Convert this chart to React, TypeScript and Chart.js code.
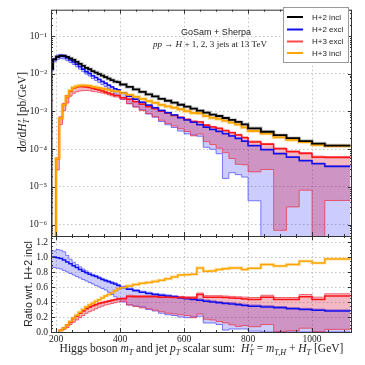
import React, { useEffect, useRef } from "react";
import { Chart, registerables } from "chart.js";
Chart.register(...registerables);

// ---------------- data ----------------
const binEdges = [
  185, 190, 200, 210, 220, 230, 240, 250, 260, 270, 280, 290, 300, 310, 320, 330, 340, 350, 360, 370, 380, 390, 400,
  420, 440, 460, 480, 500, 520, 540, 560, 580, 600, 620, 640, 660, 680, 700, 720, 740, 760, 780, 800,
  840, 880, 920, 960, 1000, 1040, 1080, 1120,
];

// H+2 incl, dσ/dH'_T [pb/GeV]
const h2InclValues = [
  3.7e-3, 1.34e-2, 2.4e-2, 2.83e-2, 3.01e-2, 3.0e-2, 2.79e-2, 2.55e-2, 2.33e-2, 2.07e-2, 1.84e-2, 1.63e-2, 1.44e-2, 1.32e-2,
  1.17e-2, 1.07e-2, 9.77e-3, 8.92e-3, 8.15e-3, 7.45e-3, 6.81e-3, 6.22e-3,
  6.04e-3, 5.19e-3, 4.47e-3, 3.85e-3, 3.31e-3, 2.85e-3, 2.52e-3, 2.17e-3, 1.93e-3, 1.71e-3, 1.51e-3, 1.34e-3, 1.19e-3,
  1.05e-3, 9.35e-4, 8.3e-4, 7.59e-4, 6.73e-4, 5.96e-4, 5.29e-4,
  4.55e-4, 3.58e-4, 2.9e-4, 2.35e-4, 1.96e-4, 1.64e-4, 1.41e-4, 1.25e-4,
];

// ratios wrt H+2 incl
const h2ExclRatio = [
  1.0, 1.0, 1.0, 0.99, 0.98, 0.96, 0.935, 0.91, 0.885, 0.86, 0.835, 0.81, 0.79, 0.77, 0.755, 0.74, 0.72, 0.7, 0.685, 0.67, 0.655, 0.64,
  0.62, 0.595, 0.57, 0.55, 0.53, 0.515, 0.5, 0.49, 0.48, 0.47, 0.455, 0.445, 0.435, 0.425, 0.41, 0.4, 0.39, 0.38, 0.375, 0.365,
  0.355, 0.345, 0.335, 0.325, 0.31, 0.3, 0.29, 0.28,
];
const h2ExclHiRatio = [
  1.06, 1.08, 1.08, 1.1, 1.09, 1.07, 1.02, 0.97, 0.93, 0.9, 0.87, 0.84, 0.815, 0.79, 0.77, 0.755, 0.735, 0.715, 0.7, 0.685, 0.67, 0.655,
  0.635, 0.61, 0.585, 0.565, 0.545, 0.53, 0.515, 0.505, 0.495, 0.485, 0.47, 0.46, 0.45, 0.44, 0.425, 0.415, 0.405, 0.395, 0.39, 0.38,
  0.37, 0.36, 0.35, 0.34, 0.325, 0.315, 0.305, 0.295,
];
const h2ExclLoRatio = [
  0.88, 0.87, 0.86, 0.85, 0.84, 0.82, 0.8, 0.78, 0.76, 0.74, 0.72, 0.7, 0.68, 0.66, 0.64, 0.62, 0.6, 0.58, 0.56, 0.53, 0.5, 0.47,
  0.44, 0.4, 0.36, 0.345, 0.335, 0.3, 0.28, 0.25, 0.23, 0.22, 0.2, 0.19, 0.2, 0.21, 0.12, 0.12, 0.1, 0.025, 0.04, 0.04,
  0.04, 0.012, 0, 0, 0, 0, 0, 0,
];
const h3ExclRatio = [
  null, null, null, 0.002, 0.022, 0.05, 0.09, 0.135, 0.18, 0.215, 0.25, 0.28, 0.31, 0.33, 0.35, 0.365, 0.38, 0.39, 0.4, 0.41, 0.42, 0.43,
  0.44, 0.445, 0.475, 0.47, 0.47, 0.47, 0.47, 0.465, 0.465, 0.46, 0.46, 0.455, 0.455, 0.5, 0.465, 0.465, 0.465, 0.46, 0.455, 0.45,
  0.44, 0.435, 0.465, 0.435, 0.435, 0.47, 0.435, 0.48,
];
const h3ExclHiRatio = [
  null, null, null, 0.002, 0.024, 0.055, 0.095, 0.14, 0.185, 0.22, 0.255, 0.29, 0.32, 0.34, 0.36, 0.375, 0.39, 0.4, 0.41, 0.42, 0.43, 0.44,
  0.45, 0.455, 0.49, 0.485, 0.485, 0.485, 0.485, 0.48, 0.48, 0.475, 0.475, 0.47, 0.47, 0.52, 0.485, 0.485, 0.485, 0.48, 0.475, 0.47,
  0.465, 0.46, 0.49, 0.46, 0.46, 0.5, 0.465, 0.51,
];
const h3ExclLoRatio = [
  null, null, null, 0.001, 0.015, 0.035, 0.06, 0.1, 0.13, 0.16, 0.19, 0.22, 0.25, 0.27, 0.29, 0.31, 0.33, 0.345, 0.36, 0.37, 0.38, 0.39,
  0.4, 0.41, 0.36, 0.34, 0.32, 0.31, 0.29, 0.27, 0.25, 0.24, 0.23, 0.22, 0.19, 0.24, 0.17, 0.16, 0.14, 0.12, 0.095, 0.075,
  0.085, 0.07, 0.1, 0.003, 0.015, 0.05, 0.002, 0.035,
];
const h3InclRatio = [
  null, null, null, 0.002, 0.022, 0.05, 0.09, 0.14, 0.185, 0.225, 0.265, 0.3, 0.335, 0.36, 0.385, 0.41, 0.43, 0.455, 0.48, 0.5, 0.52, 0.55,
  0.575, 0.595, 0.615, 0.635, 0.65, 0.66, 0.675, 0.69, 0.71, 0.735, 0.76, 0.765, 0.77, 0.855, 0.81, 0.815, 0.835, 0.845, 0.855, 0.855,
  0.835, 0.85, 0.9, 0.88, 0.9, 0.945, 0.92, 0.975,
];

const xTickValues = [200, 400, 600, 800, 1000];
const logTickValues = [1e-6, 1e-5, 1e-4, 1e-3, 1e-2, 1e-1];
const ratioTickValues = [0, 0.2, 0.4, 0.6, 0.8, 1.0, 1.2];
const legendLabels = ["H+2 incl", "H+2 excl", "H+3 excl", "H+3 incl"];

// ---------------- styles ----------------
const X_MIN = 184;
const X_MAX = 1125;
const LOG_FLOOR = 1e-9;
const SERIF = "'Liberation Serif', 'DejaVu Serif', serif";
const SANS = "'Liberation Sans', Arial, sans-serif";
const C_BLACK = "#000000";
const C_BLUE = "#1010ee";
const C_RED = "#ff1515";
const C_ORANGE = "#ffa500";
const BLUE_FILL = "rgba(0,0,255,0.2)";
const BLUE_EDGE = "rgba(90,90,255,0.75)";
const RED_FILL = "rgba(210,0,40,0.28)";
const RED_EDGE = "rgba(240,70,90,0.8)";
const GRID = "#b5b5b5";

type Pt = { x: number; y: number | null };

function stepPts(vals: (number | null)[], floor?: number, leadFromFloor?: boolean): Pt[] {
  const f = (v: number | null) => (v === null ? null : floor !== undefined ? Math.max(v, floor) : v);
  const pts: Pt[] = [];
  if (leadFromFloor && floor !== undefined) pts.push({ x: binEdges[0], y: floor });
  vals.forEach((v, i) => pts.push({ x: binEdges[i], y: f(v) }));
  pts.push({ x: binEdges[binEdges.length - 1], y: f(vals[vals.length - 1]) });
  return pts;
}
const absolute = (ratio: (number | null)[]) => h2InclValues.map((v, i) => v * (ratio[i] ?? 0));

const SUP: Record<string, string> = { "-": "⁻", "0": "⁰", "1": "¹", "2": "²", "3": "³", "4": "⁴", "5": "⁵", "6": "⁶", "7": "⁷", "8": "⁸", "9": "⁹" };
const supStr = (s: string) => s.split("").map((c) => SUP[c] || c).join("");

type Seg = { t: string; it?: boolean; sub?: boolean; sup?: boolean; noAdv?: boolean; dx?: number };
function segFont(s: Seg, size: number) {
  const sz = s.sub || s.sup ? size * 0.7 : size;
  return `${s.it ? "italic " : ""}${sz.toFixed(2)}px ${SERIF}`;
}
function richWidth(ctx: CanvasRenderingContext2D, segs: Seg[], size: number) {
  let w = 0;
  for (const s of segs) {
    ctx.font = segFont(s, size);
    if (!s.noAdv) w += ctx.measureText(s.t).width;
  }
  return w;
}
function drawRich(ctx: CanvasRenderingContext2D, segs: Seg[], cx: number, cy: number, size: number) {
  const w = richWidth(ctx, segs, size);
  let x = cx - w / 2;
  ctx.textAlign = "left";
  ctx.textBaseline = "alphabetic";
  const base = cy + size * 0.33;
  for (const s of segs) {
    ctx.font = segFont(s, size);
    const dy = s.sub ? size * 0.25 : s.sup ? -size * 0.4 : 0;
    ctx.fillText(s.t, x + (s.dx || 0), base + dy);
    if (!s.noAdv) x += ctx.measureText(s.t).width;
  }
}
const fitSize = (ctx: CanvasRenderingContext2D, segs: Seg[], target: number) => (10 * target) / richWidth(ctx, segs, 10);

const xTitleSegs: Seg[] = [
  { t: "Higgs boson " }, { t: "m", it: true }, { t: "T", it: true, sub: true }, { t: " and jet " },
  { t: "p", it: true }, { t: "T", it: true, sub: true }, { t: " scalar sum:  " },
  { t: "H", it: true }, { t: "′", noAdv: true, dx: 1.5 }, { t: "T", it: true, sub: true }, { t: " = " },
  { t: "m", it: true }, { t: "T,H", it: true, sub: true }, { t: " + " }, { t: "H", it: true }, { t: "T", it: true, sub: true },
  { t: " [GeV]" },
];
const yTitleSegs: Seg[] = [
  { t: "d" }, { t: "σ", it: true }, { t: "/d" }, { t: "H", it: true }, { t: "′", noAdv: true, dx: 1.5 },
  { t: "T", it: true, sub: true }, { t: " [pb/GeV]" },
];
const procSegs: Seg[] = [
  { t: "pp", it: true }, { t: " → " }, { t: "H", it: true }, { t: " + 1, 2, 3" }, { t: " jets at 13 TeV" },
];

function strokeLine(ctx: CanvasRenderingContext2D, x1: number, y1: number, x2: number, y2: number) {
  ctx.beginPath();
  ctx.moveTo(x1, y1);
  ctx.lineTo(x2, y2);
  ctx.stroke();
}

function drawXTicks(chart: any) {
  const { ctx, chartArea: a, scales } = chart;
  for (let v = 200; v <= X_MAX; v += 50) {
    const px = Math.round(scales.x.getPixelForValue(v)) + 0.5;
    const len = v % 200 === 0 ? 4 : 2;
    strokeLine(ctx, px, a.top, px, a.top + len);
    strokeLine(ctx, px, a.bottom, px, a.bottom - len);
  }
}
function drawFrame(chart: any) {
  const { ctx, chartArea: a } = chart;
  ctx.strokeRect(a.left + 0.5, a.top + 0.5, a.right - a.left - 1, a.bottom - a.top);
}

const upperDecor = {
  id: "upperDecor",
  afterDraw(chart: any) {
    const { ctx, chartArea: a, scales } = chart;
    const ys = scales.y;
    ctx.save();
    ctx.strokeStyle = "#333";
    ctx.lineWidth = 1;
    drawXTicks(chart);
    for (let e = -7; e <= 0; e++) {
      for (let m = 1; m <= 9; m++) {
        const v = m * Math.pow(10, e);
        if (v < ys.min || v > ys.max) continue;
        const py = Math.round(ys.getPixelForValue(v)) + 0.5;
        const len = m === 1 ? 4 : 2;
        strokeLine(ctx, a.left, py, a.left + len, py);
        strokeLine(ctx, a.right, py, a.right - len, py);
      }
    }
    drawFrame(chart);

    // legend
    const lx = 283, ly = 7, lw = 65, lh = 55;
    ctx.fillStyle = "#ffffff";
    ctx.fillRect(lx, ly, lw, lh);
    ctx.strokeStyle = "#9a9a9a";
    ctx.strokeRect(lx + 0.5, ly + 0.5, lw, lh);
    const cols = [C_BLACK, C_BLUE, "#ff4a4a", C_ORANGE];
    const rows = [17, 29.5, 41.5, 53];
    legendLabels.forEach((lab, i) => {
      ctx.strokeStyle = cols[i];
      ctx.lineWidth = 2;
      strokeLine(ctx, 287, rows[i], 303, rows[i]);
      ctx.fillStyle = "#222";
      ctx.font = `8px ${SANS}`;
      ctx.textAlign = "left";
      ctx.textBaseline = "middle";
      ctx.fillText(lab, 312, rows[i] + 0.5);
    });

    // annotations
    ctx.fillStyle = "#222";
    ctx.font = `9px ${SANS}`;
    ctx.textAlign = "center";
    ctx.textBaseline = "middle";
    ctx.fillText("GoSam + Sherpa", 216, 33);
    drawRich(ctx, procSegs, 210, 44, fitSize(ctx, procSegs, 114));

    // y title (same font size as the x title)
    const titleSize = fitSize(ctx, xTitleSegs, 284);
    ctx.save();
    ctx.translate(22, 112);
    ctx.rotate(-Math.PI / 2);
    drawRich(ctx, yTitleSegs, 0, 0, titleSize);
    ctx.restore();
    ctx.restore();
  },
};

const lowerDecor = {
  id: "lowerDecor",
  afterDraw(chart: any) {
    const { ctx, chartArea: a, scales } = chart;
    const ys = scales.y;
    ctx.save();
    ctx.strokeStyle = "#333";
    ctx.lineWidth = 1;
    drawXTicks(chart);
    for (let k = 0; k <= 25; k++) {
      const v = k * 0.05;
      if (v > ys.max) continue;
      const py = Math.round(ys.getPixelForValue(v)) + 0.5;
      const len = k % 4 === 0 ? 4 : 2;
      strokeLine(ctx, a.left, py, a.left + len, py);
      strokeLine(ctx, a.right, py, a.right - len, py);
    }
    drawFrame(chart);
    ctx.fillStyle = "#222";
    drawRich(ctx, xTitleSegs, (a.left + a.right) / 2, 348.5, fitSize(ctx, xTitleSegs, 284));
    ctx.save();
    ctx.translate(29, 284);
    ctx.rotate(-Math.PI / 2);
    ctx.font = `10.5px ${SANS}`;
    ctx.textAlign = "center";
    ctx.textBaseline = "middle";
    ctx.fillText("Ratio wrt. H+2 incl", 0, 0);
    ctx.restore();
    ctx.restore();
  },
};

function lineDs(label: string, data: Pt[], color: string, width: number, extra: any = {}) {
  return {
    label,
    data,
    borderColor: color,
    backgroundColor: "transparent",
    borderWidth: width,
    pointRadius: 0,
    stepped: "after" as const,
    fill: false,
    spanGaps: false,
    ...extra,
  };
}

const tickFont = { family: SERIF, size: 9.5 };
const commonPlugins = { legend: { display: false }, tooltip: { enabled: false } };

export default function App() {
  const upperRef = useRef<HTMLCanvasElement>(null);
  const lowerRef = useRef<HTMLCanvasElement>(null);

  useEffect(() => {
    const up = upperRef.current!;
    const lo = lowerRef.current!;

    const upper = new Chart(up, {
      type: "line",
      data: {
        datasets: [
          lineDs("H+2 incl", stepPts(h2InclValues, LOG_FLOOR, true), C_BLACK, 1.8),
          lineDs("H+3 incl", stepPts(absolute(h3InclRatio), LOG_FLOOR, true), C_ORANGE, 1.8),
          lineDs("H+2 excl", stepPts(absolute(h2ExclRatio), LOG_FLOOR, true), C_BLUE, 1.5),
          lineDs("H+3 excl", stepPts(absolute(h3ExclRatio), LOG_FLOOR, true), C_RED, 1.5),
          lineDs("H+3 excl hi", stepPts(absolute(h3ExclHiRatio), LOG_FLOOR, true), RED_EDGE, 1, { fill: { target: 5 }, backgroundColor: RED_FILL }),
          lineDs("H+3 excl lo", stepPts(absolute(h3ExclLoRatio), LOG_FLOOR, true), RED_EDGE, 1),
          lineDs("H+2 excl hi", stepPts(absolute(h2ExclHiRatio), LOG_FLOOR, true), BLUE_EDGE, 1, { fill: { target: 7 }, backgroundColor: BLUE_FILL }),
          lineDs("H+2 excl lo", stepPts(absolute(h2ExclLoRatio), LOG_FLOOR, true), BLUE_EDGE, 1),
          lineDs("H+2 incl halo", stepPts(h2InclValues, LOG_FLOOR, true), "rgba(0,0,0,0.22)", 3.6),
          lineDs("H+3 incl halo", stepPts(absolute(h3InclRatio), LOG_FLOOR, true), "rgba(255,165,0,0.35)", 3.6),
        ],
      },
      options: {
        responsive: false,
        animation: false,
        devicePixelRatio: 1,
        layout: { padding: { top: 7, right: 13, bottom: 129, left: 0 } },
        plugins: commonPlugins,
        scales: {
          x: {
            type: "linear",
            min: X_MIN,
            max: X_MAX,
            afterBuildTicks: (axis: any) => { axis.ticks = xTickValues.map((v) => ({ value: v })); },
            afterFit: (axis: any) => { axis.height = 0; },
            ticks: { display: false },
            grid: { color: GRID, lineWidth: 0.8, drawTicks: false },
            border: { display: false, dash: [1.5, 2.5] },
          },
          y: {
            type: "logarithmic",
            min: 5e-7,
            max: 0.5,
            afterBuildTicks: (axis: any) => { axis.ticks = logTickValues.map((v) => ({ value: v })); },
            afterFit: (axis: any) => { axis.width = 51; },
            ticks: {
              font: tickFont,
              color: "#222",
              padding: 4,
              callback: (v: any) => "10" + supStr(String(Math.round(Math.log10(Number(v))))),
            },
            grid: { color: GRID, lineWidth: 0.8, drawTicks: false },
            border: { display: false, dash: [1.5, 2.5] },
          },
        },
      },
      plugins: [upperDecor],
    } as any);

    const lower = new Chart(lo, {
      type: "line",
      data: {
        datasets: [
          lineDs("H+3 incl", stepPts(h3InclRatio), C_ORANGE, 1.5),
          lineDs("H+3 excl", stepPts(h3ExclRatio), C_RED, 1.5),
          lineDs("H+2 excl", stepPts(h2ExclRatio), C_BLUE, 1.5),
          lineDs("H+3 excl hi", stepPts(h3ExclHiRatio), RED_EDGE, 1, { fill: { target: 4 }, backgroundColor: RED_FILL }),
          lineDs("H+3 excl lo", stepPts(h3ExclLoRatio), RED_EDGE, 1),
          lineDs("H+2 excl hi", stepPts(h2ExclHiRatio), BLUE_EDGE, 1, { fill: { target: 6 }, backgroundColor: BLUE_FILL }),
          lineDs("H+2 excl lo", stepPts(h2ExclLoRatio), BLUE_EDGE, 1),
          lineDs("H+3 incl halo", stepPts(h3InclRatio), "rgba(255,165,0,0.3)", 3.2),
        ],
      },
      options: {
        responsive: false,
        animation: false,
        devicePixelRatio: 1,
        layout: { padding: { top: 236, right: 13, bottom: 0, left: 0 } },
        plugins: commonPlugins,
        scales: {
          x: {
            type: "linear",
            min: X_MIN,
            max: X_MAX,
            afterBuildTicks: (axis: any) => { axis.ticks = xTickValues.map((v) => ({ value: v })); },
            afterFit: (axis: any) => { axis.height = 33; },
            ticks: { font: tickFont, color: "#222", padding: 2, maxRotation: 0, callback: (v: any) => String(v) },
            grid: { color: GRID, lineWidth: 0.8, drawTicks: false },
            border: { display: false, dash: [1.5, 2.5] },
          },
          y: {
            type: "linear",
            min: 0,
            max: 1.28,
            afterBuildTicks: (axis: any) => { axis.ticks = ratioTickValues.map((v) => ({ value: v })); },
            afterFit: (axis: any) => { axis.width = 51; },
            ticks: { font: tickFont, color: "#222", padding: 3, callback: (v: any) => Number(v).toFixed(1) },
            grid: { color: GRID, lineWidth: 0.8, drawTicks: false },
            border: { display: false, dash: [1.5, 2.5] },
          },
        },
      },
      plugins: [lowerDecor],
    } as any);

    return () => {
      upper.destroy();
      lower.destroy();
    };
  }, []);

  const cs: React.CSSProperties = { position: "absolute", left: 0, top: 0, width: 365, height: 365 };
  return (
    <div style={{ position: "fixed", left: 0, top: 0, width: 365, height: 365, background: "#fff" }}>
      <canvas ref={lowerRef} width={365} height={365} style={cs} />
      <canvas ref={upperRef} width={365} height={365} style={cs} />
    </div>
  );
}
